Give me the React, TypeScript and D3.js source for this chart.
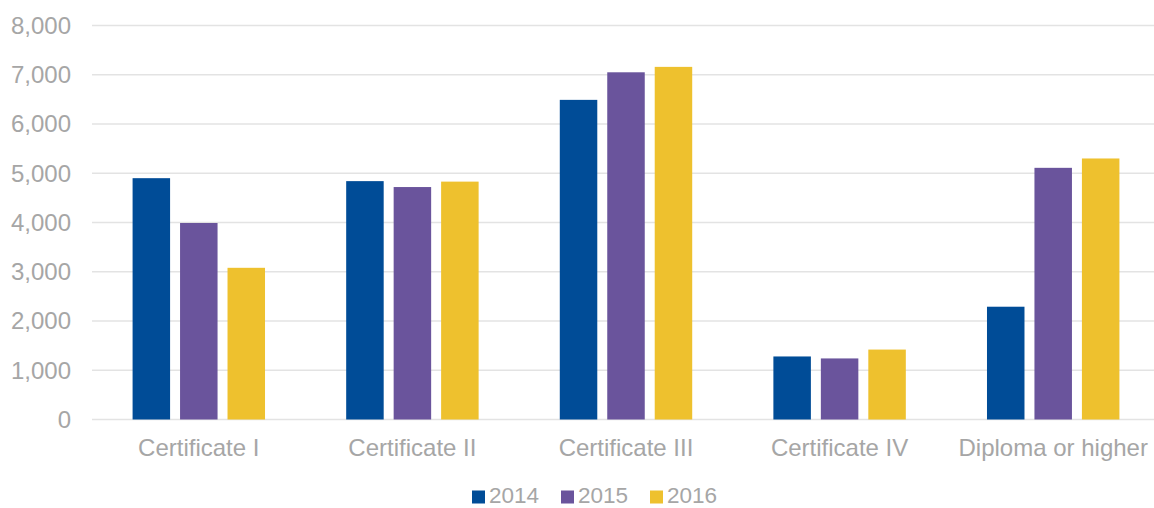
import React from 'react';
import * as d3 from 'd3';

const categories = ['Certificate I', 'Certificate II', 'Certificate III', 'Certificate IV', 'Diploma or higher'];
const years = ['2014', '2015', '2016'];
const values2014 = [4900, 4840, 6490, 1280, 2290];
const values2015 = [3990, 4720, 7050, 1240, 5110];
const values2016 = [3080, 4830, 7160, 1420, 5300];
const yTicks = [0, 1000, 2000, 3000, 4000, 5000, 6000, 7000, 8000];
const colors = ['#004C97', '#6A549C', '#EEC12E'];

const W = 1154;
const H = 508;
const font = '"Liberation Sans", Arial, sans-serif';
const textColor = '#a6a6a6';

export default function App() {
  const series = [values2014, values2015, values2016];

  const x0 = d3.scaleBand().domain(categories).range([92, 1160]).paddingInner(0.38).paddingOuter(0.19);
  const x1 = d3.scaleBand().domain(years).range([0, x0.bandwidth()]).paddingInner(0.21).paddingOuter(0);
  const y = d3.scaleLinear().domain([0, 8000]).range([419.5, 25.5]);
  const fmt = d3.format(',');

  // legend positions
  const legendX = [472, 561, 650];

  return (
    <svg width={W} height={H} style={{ position: 'absolute', left: 0, top: 0 }} fontFamily={font}>
      <rect width={W} height={H} fill="#fff" />
      {yTicks.map((t) => (
        <g key={t}>
          <line x1={92} x2={W} y1={y(t)} y2={y(t)} stroke="#e3e3e3" strokeWidth={1.5} />
          <text x={71} y={y(t)} dy="0.35em" textAnchor="end" fontSize={24} fill={textColor}>
            {fmt(t)}
          </text>
        </g>
      ))}
      {categories.map((c, i) => (
        <g key={c} transform={`translate(${x0(c)},0)`}>
          {years.map((yr, j) => (
            <rect
              key={yr}
              x={x1(yr)}
              y={y(series[j][i])}
              width={x1.bandwidth()}
              height={y(0) - y(series[j][i])}
              fill={colors[j]}
            />
          ))}
          <text x={x0.bandwidth() / 2} y={456} textAnchor="middle" fontSize={24} fill={textColor}>
            {c}
          </text>
        </g>
      ))}
      {years.map((yr, j) => (
        <g key={yr} transform={`translate(${legendX[j]},0)`}>
          <rect x={0} y={490.5} width={13} height={13} fill={colors[j]} />
          <text x={17} y={503} fontSize={22.5} fill={textColor}>
            {yr}
          </text>
        </g>
      ))}
    </svg>
  );
}
